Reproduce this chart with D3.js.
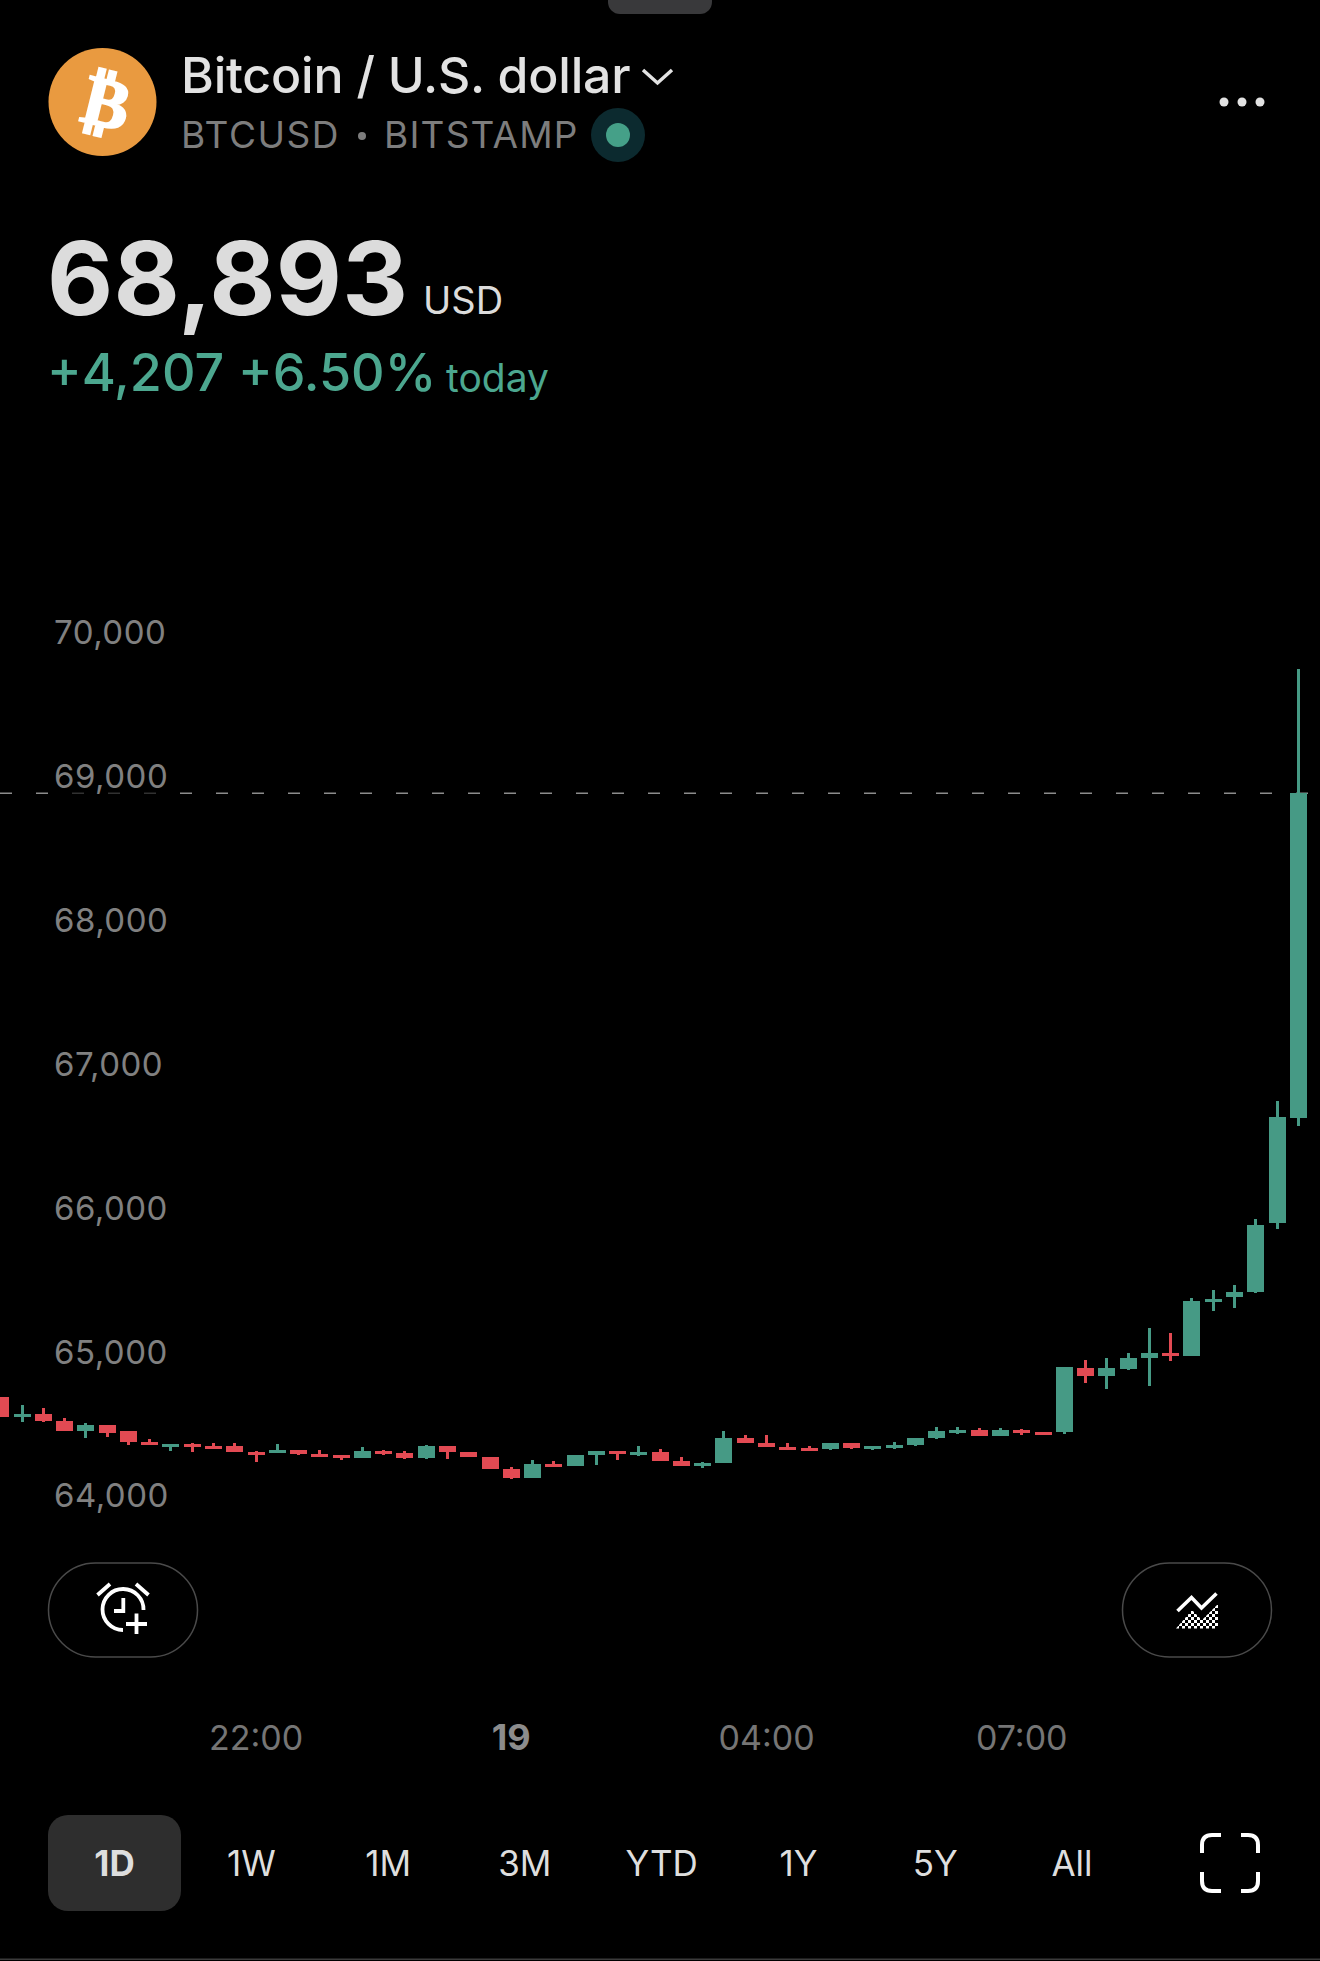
<!DOCTYPE html>
<html>
<head>
<meta charset="utf-8">
<title>Bitcoin / U.S. dollar</title>
<script src="https://cdn.jsdelivr.net/npm/d3@7"></script>
<style>
html, body { margin: 0; padding: 0; background: #000; }
svg { display: block; }
text { font-family: Inter, "Liberation Sans", sans-serif; }
</style>
</head>
<body>
<svg id="chart" width="1320" height="1961"></svg>
<script>
// 15 minute candles, first one is 19:00
var opens = [64698, 64559, 64580, 64531, 64462, 64503, 64462, 64385, 64350, 64371, 64357, 64357, 64316, 64309, 64330, 64302,
    64295, 64274, 64323, 64309, 64274, 64357, 64316, 64281, 64198, 64135, 64232, 64218, 64295, 64323, 64295, 64316,
    64253, 64218, 64239, 64413, 64378, 64350, 64343, 64337, 64378, 64337, 64344, 64365, 64413, 64448, 64469, 64427,
    64469, 64455, 64455, 64900, 64844, 64893, 64969, 65004, 64983, 65358, 65393, 65428, 65907, 66637];
var highs = [64698, 64642, 64621, 64552, 64517, 64503, 64462, 64406, 64371, 64378, 64378, 64378, 64323, 64371, 64330, 64330,
    64295, 64350, 64330, 64323, 64364, 64357, 64316, 64281, 64211, 64260, 64253, 64295, 64323, 64323, 64357, 64337,
    64281, 64246, 64462, 64434, 64434, 64378, 64357, 64378, 64378, 64357, 64385, 64413, 64490, 64490, 64483, 64483,
    64476, 64455, 64907, 64955, 64969, 65004, 65178, 65143, 65386, 65442, 65476, 65935, 66755, 69757];
var lows = [64559, 64524, 64524, 64462, 64413, 64420, 64364, 64364, 64323, 64316, 64337, 64316, 64246, 64309, 64295, 64281,
    64260, 64274, 64295, 64267, 64267, 64267, 64281, 64198, 64128, 64135, 64211, 64218, 64225, 64260, 64288, 64253,
    64218, 64205, 64239, 64378, 64350, 64330, 64323, 64330, 64337, 64330, 64337, 64358, 64406, 64441, 64427, 64427,
    64434, 64434, 64441, 64795, 64754, 64886, 64775, 64948, 64983, 65296, 65317, 65421, 65866, 66581];
var closes = [64559, 64580, 64531, 64462, 64503, 64448, 64385, 64364, 64371, 64350, 64337, 64316, 64295, 64330, 64302, 64281,
    64274, 64323, 64302, 64274, 64357, 64316, 64281, 64198, 64135, 64232, 64211, 64295, 64323, 64302, 64316, 64253,
    64218, 64239, 64413, 64378, 64350, 64330, 64323, 64378, 64343, 64357, 64365, 64413, 64462, 64469, 64427, 64469,
    64448, 64434, 64907, 64844, 64900, 64969, 65004, 64983, 65365, 65379, 65428, 65893, 66644, 68893];

var lastPrice = 68893;
var priceTicks = [70000, 69000, 68000, 67000, 66000, 65000, 64000];
var timeTickIndex = [12, 24, 36, 48];
var timeTickLabels = ["22:00", "19", "04:00", "07:00"];
var ranges = ["1D", "1W", "1M", "3M", "YTD", "1Y", "5Y", "All"];

var green = "#469a85", red = "#e24a53", textGreen = "#4ca78f";

var svg = d3.select("#chart");
var x = d3.scaleLinear().domain([0, 61]).range([0.8, 1298.3]);
var y = d3.scaleLinear().domain([64000, 70000]).range([1497.4, 634]);

// grab handle
svg.append("rect").attr("x", 608).attr("y", -14).attr("width", 104).attr("height", 28).attr("rx", 12).attr("fill", "#39393b");

// logo
svg.append("circle").attr("cx", 102.5).attr("cy", 102).attr("r", 54).attr("fill", "#e99a40");
svg.append("text")
    .attr("transform", "translate(101,126) rotate(14)")
    .attr("text-anchor", "middle")
    .style("font-family", "'DejaVu Sans'")
    .style("font-weight", 700)
    .style("font-size", "70px")
    .attr("fill", "#fff")
    .attr("stroke", "#fff")
    .attr("stroke-width", 2)
    .text("\u20bf");

function label(px, py, str, size, fill, weight, spacing) {
    return svg.append("text")
        .attr("x", px).attr("y", py)
        .style("font-size", size + "px")
        .style("font-weight", weight || 400)
        .style("letter-spacing", (spacing || 0) + "px")
        .attr("fill", fill)
        .text(str);
}

// header
label(181, 93, "Bitcoin / U.S. dollar", 50, "#e2e2e2", 500, -0.2);
svg.append("path").attr("d", d3.line()([[643, 70], [657.5, 83], [672, 70]]))
    .attr("fill", "none").attr("stroke", "#e2e2e2").attr("stroke-width", 3.5);
label(181, 148, "BTCUSD", 37, "#7d7d7d", 400, 1.5);
svg.append("circle").attr("cx", 362).attr("cy", 136).attr("r", 4).attr("fill", "#7d7d7d");
label(384, 148, "BITSTAMP", 37, "#7d7d7d", 400, 1.2);
svg.append("circle").attr("cx", 618).attr("cy", 135).attr("r", 27).attr("fill", "#0c2a2f");
svg.append("circle").attr("cx", 618).attr("cy", 135).attr("r", 12).attr("fill", "#45a088");
svg.selectAll(".dot").data([1224, 1242, 1260]).enter().append("circle")
    .attr("class", "dot").attr("cx", function (d) { return d; }).attr("cy", 102).attr("r", 4.5).attr("fill", "#e2e2e2");

label(47, 315, "68,893", 102, "#dcdcdc", 700, 0.2);
label(423, 314, "USD", 38, "#dcdcdc");
label(47, 391, "+4,207 +6.50%", 52, textGreen, 500, 0);
label(446, 392, "today", 39, textGreen);

// last price line, dimmed behind the 69,000 label
svg.append("line")
    .attr("x1", 0).attr("x2", 1320)
    .attr("y1", y(lastPrice)).attr("y2", y(lastPrice))
    .attr("stroke", "#8c8c8c").attr("stroke-width", 1.4).attr("stroke-dasharray", "12 24");
svg.append("rect").attr("x", 56).attr("y", y(69000) - 14).attr("width", 110).attr("height", 34).attr("fill", "rgba(0,0,0,0.65)");

// price axis
var yAxis = svg.append("g")
    .attr("transform", "translate(54,0)")
    .call(d3.axisRight(y).tickValues(priceTicks).tickSize(0).tickPadding(0).tickFormat(d3.format(",")));
yAxis.select(".domain").remove();
yAxis.selectAll("text")
    .attr("dy", "0.29em")
    .style("font-size", "33px")
    .style("font-family", "Inter, 'Liberation Sans', sans-serif")
    .style("letter-spacing", "0.5px")
    .attr("fill", "#808080");

// candles
var idx = d3.range(opens.length);
var colorOf = function (i) { return closes[i] >= opens[i] ? green : red; };

svg.append("g").attr("shape-rendering", "crispEdges").selectAll("rect").data(idx).enter().append("rect")
    .attr("x", function (i) { return x(i) - 1.5; })
    .attr("width", 3)
    .attr("y", function (i) { return y(highs[i]); })
    .attr("height", function (i) { return y(lows[i]) - y(highs[i]); })
    .attr("fill", colorOf);

svg.append("g").attr("shape-rendering", "crispEdges").selectAll("rect").data(idx).enter().append("rect")
    .attr("x", function (i) { return x(i) - 8.5; })
    .attr("width", 17)
    .attr("y", function (i) { return y(Math.max(opens[i], closes[i])); })
    .attr("height", function (i) { return Math.abs(y(opens[i]) - y(closes[i])); })
    .attr("fill", colorOf);

// alert button
function pill(px) {
    svg.append("rect").attr("x", px).attr("y", 1563).attr("width", 149).attr("height", 94).attr("rx", 47)
        .attr("fill", "none").attr("stroke", "#4a4a4a").attr("stroke-width", 1.5);
}
pill(48.5);
pill(1122.5);

var icon = svg.append("g").attr("fill", "none").attr("stroke", "#fff").attr("stroke-width", 3.8);
icon.append("path").attr("d", "M143.5 1610 A20.5 20.5 0 1 0 123 1630");
icon.append("path").attr("d", "M123.3 1598 V1611 H114");
icon.append("path").attr("d", "M97.5 1595 L110 1584 M136 1584 L148.5 1595");
icon.append("path").attr("d", "M126 1624 H147 M136.5 1613.5 V1634");

// chart type button
var defs = svg.append("defs");
var checker = defs.append("pattern").attr("id", "checker").attr("width", 6).attr("height", 6)
    .attr("patternUnits", "userSpaceOnUse");
checker.append("rect").attr("width", 3).attr("height", 3).attr("fill", "#fff");
checker.append("rect").attr("x", 3).attr("y", 3).attr("width", 3).attr("height", 3).attr("fill", "#fff");
svg.append("path").attr("d", "M1176 1628.5 L1192 1610 L1202 1620 L1218 1604 V1628.5 Z").attr("fill", "url(#checker)");
svg.append("path").attr("d", "M1177.5 1611 L1191.5 1597.5 L1201.5 1608 L1216.5 1593.5")
    .attr("fill", "none").attr("stroke", "#fff").attr("stroke-width", 3.6);

// time axis
svg.selectAll(".timeTick").data(timeTickIndex).enter().append("text")
    .attr("class", "timeTick")
    .attr("x", function (d) { return x(d); })
    .attr("y", 1750)
    .attr("text-anchor", "middle")
    .style("font-size", function (d, i) { return timeTickLabels[i] == "19" ? "36px" : "34px"; })
    .style("font-weight", function (d, i) { return timeTickLabels[i] == "19" ? 700 : 400; })
    .attr("fill", function (d, i) { return timeTickLabels[i] == "19" ? "#8c8c8c" : "#757575"; })
    .text(function (d, i) { return timeTickLabels[i]; });

// range buttons
var rangeX = d3.scalePoint().domain(ranges).range([114.5, 1072]);
svg.append("rect").attr("x", 48).attr("y", 1815).attr("width", 133).attr("height", 96).attr("rx", 20).attr("fill", "#2e2e2e");
svg.selectAll(".range").data(ranges).enter().append("text")
    .attr("class", "range")
    .attr("x", function (d) { return rangeX(d); })
    .attr("y", 1876)
    .attr("text-anchor", "middle")
    .style("font-size", "35px")
    .style("font-weight", function (d) { return d == "1D" ? 700 : 400; })
    .attr("fill", "#dedede")
    .text(function (d) { return d; });

// fullscreen icon
svg.append("path")
    .attr("d", "M1202 1853 V1845 Q1202 1835 1212 1835 H1221 M1241 1835 H1248 Q1258 1835 1258 1845 V1853 " +
        "M1258 1872 V1881 Q1258 1891 1248 1891 H1241 M1221 1891 H1212 Q1202 1891 1202 1881 V1872")
    .attr("fill", "none").attr("stroke", "#fff").attr("stroke-width", 4);

// bottom edge
svg.append("rect").attr("x", 0).attr("y", 1958.5).attr("width", 1320).attr("height", 1.5).attr("fill", "#3a3a3a");
</script>
</body>
</html>
